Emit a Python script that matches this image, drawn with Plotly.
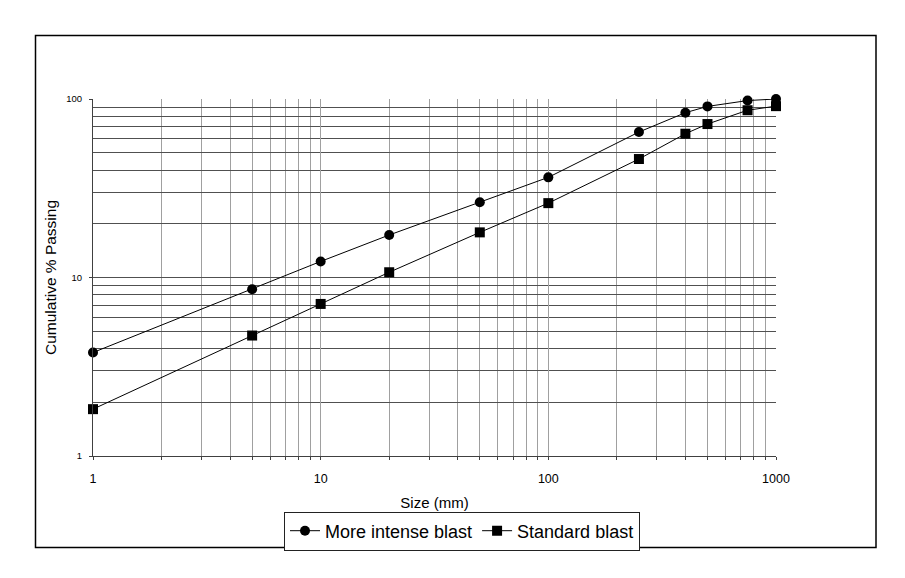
import plotly.graph_objects as go

# ---- data ----
sizes_mm = [1, 5, 10, 20, 50, 100, 250, 400, 500, 750, 1000]
intense_blast = [3.8, 8.6, 12.3, 17.3, 26.4, 36.4, 65.3, 83.8, 90.9, 98.0, 100.0]
standard_blast = [1.83, 4.73, 7.11, 10.7, 17.9, 26.1, 46.1, 63.9, 72.4, 86.5, 91.2]

x_major = [1, 10, 100, 1000]
x_minor = [m * d for d in (1, 10, 100) for m in range(2, 10)]
y_major = [1, 10, 100]
y_minor = [m * d for d in (1, 10) for m in range(2, 10)]

W, H = 905, 578
L, R, T, B = 93, 129, 99, 122
pw, ph = W - L - R, H - T - B

FONT = "Liberation Sans, Arial, sans-serif"

fig = go.Figure()
fig.add_trace(go.Scatter(
    x=sizes_mm, y=intense_blast, mode="lines+markers", name="More intense blast",
    line=dict(color="black", width=1),
    marker=dict(symbol="circle", size=10, color="black"),
    cliponaxis=False,
))
fig.add_trace(go.Scatter(
    x=sizes_mm, y=standard_blast, mode="lines+markers", name="Standard blast",
    line=dict(color="black", width=1),
    marker=dict(symbol="square", size=10, color="black"),
    cliponaxis=False,
))

def px_to_paper_x(px):
    return (px - L) / pw

def px_to_paper_y(py):
    return (H - B - py) / ph

fig.update_layout(
    width=W, height=H,
    margin=dict(l=L, r=R, t=T, b=B, autoexpand=False),
    paper_bgcolor="white", plot_bgcolor="white",
    font=dict(family=FONT, color="black"),
    showlegend=True,
    legend=dict(
        orientation="h",
        x=px_to_paper_x(462), xanchor="center",
        y=px_to_paper_y(511.5), yanchor="top",
        bordercolor="#222", borderwidth=1, bgcolor="white",
        font=dict(size=18, family=FONT, color="black"),
        itemwidth=30, tracegroupgap=0,
    ),
    xaxis=dict(
        type="log", range=[0, 3],
        tickvals=x_major, ticktext=[str(v) for v in x_major],
        tickfont=dict(size=12.5, family=FONT, color="black"),
        ticks="outside", ticklen=3, tickcolor="#404040",
        ticklabelstandoff=8,
        showgrid=True, gridcolor="#a0a0a0", gridwidth=1,
        minor=dict(tickvals=x_minor, showgrid=True, gridcolor="#a0a0a0",
                   gridwidth=1, ticks="outside", ticklen=3, tickcolor="#404040"),
        showline=True, linecolor="#404040", linewidth=1,
        zeroline=False,
        title=dict(text="Size (mm)", font=dict(size=15, family=FONT, color="black"), standoff=12),
        automargin=False,
    ),
    yaxis=dict(
        type="log", range=[0, 2],
        tickvals=y_major, ticktext=[str(v) for v in y_major],
        tickfont=dict(size=9.5, family=FONT, color="black"),
        ticks="outside", ticklen=3, tickcolor="#404040",
        ticklabelstandoff=5,
        showgrid=True, gridcolor="#505050", gridwidth=1,
        minor=dict(tickvals=y_minor, showgrid=True, gridcolor="#505050",
                   gridwidth=1, ticks=""),
        showline=True, linecolor="#404040", linewidth=1,
        zeroline=False,
        title=dict(text="Cumulative % Passing", font=dict(size=15.5, family=FONT, color="black"), standoff=5),
        automargin=False,
    ),
    shapes=[dict(
        type="rect", xref="paper", yref="paper",
        x0=px_to_paper_x(35.5), x1=px_to_paper_x(876),
        y0=px_to_paper_y(547.5), y1=px_to_paper_y(35.5),
        line=dict(color="black", width=1.5), fillcolor="rgba(0,0,0,0)", layer="below",
    )],
)

fig.write_html("out.html")
